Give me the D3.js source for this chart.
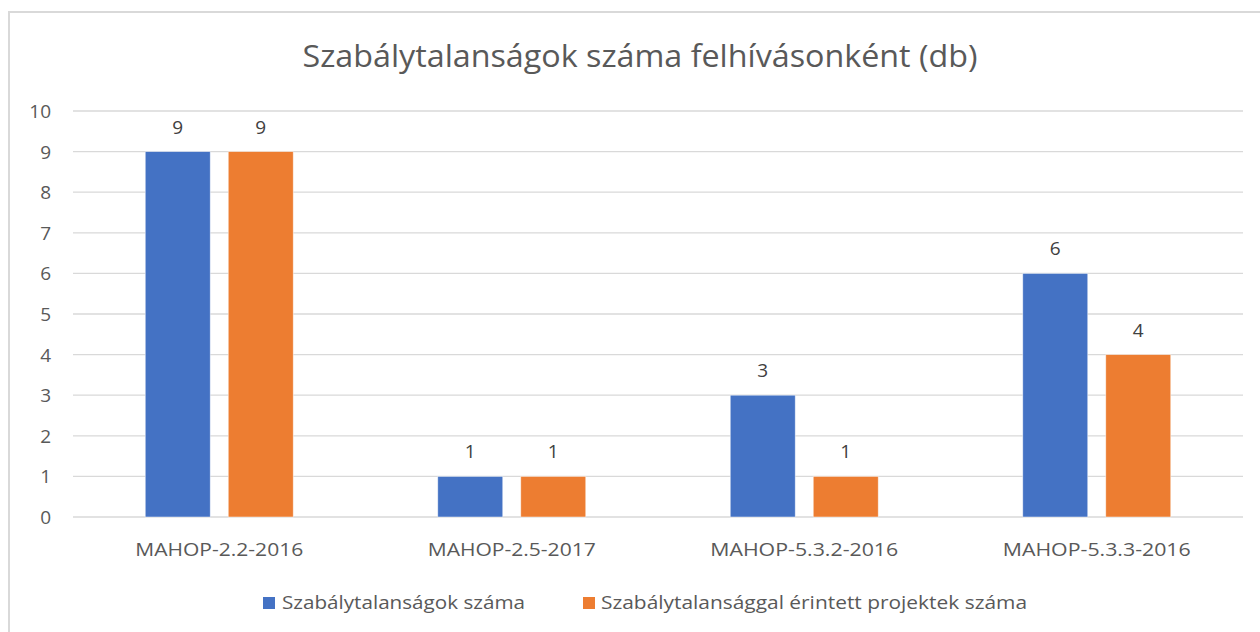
<!DOCTYPE html>
<html>
<head>
<meta charset="utf-8">
<script src="https://cdn.jsdelivr.net/npm/d3@7"></script>
<style>
	body { margin: 0; background: #fff; }
	text { font-family: "Open Sans", "Noto Sans", sans-serif; }
</style>
</head>
<body>
<script>
'use strict';

// Chart data
const categories = ["MAHOP-2.2-2016", "MAHOP-2.5-2017", "MAHOP-5.3.2-2016", "MAHOP-5.3.3-2016"];
const seriesNames = ["Szabálytalanságok száma", "Szabálytalansággal érintett projektek száma"];
const irregularities = [9, 1, 3, 6];
const affectedProjects = [9, 1, 1, 4];
const yTicks = [0, 1, 2, 3, 4, 5, 6, 7, 8, 9, 10];
const titleText = "Szabálytalanságok száma felhívásonként (db)";

const colors = ["#4472C4", "#ED7D31"];
const seriesValues = [irregularities, affectedProjects];

const width = 1260, height = 632;
const plot = { left: 73, right: 1243, top: 111, bottom: 517 };

let svg = d3.select("body").append("svg")
	.attr("width", width)
	.attr("height", height);

// Outer chart border
svg.append("rect")
	.attr("x", 9).attr("y", 12)
	.attr("width", 1270).attr("height", 640)
	.attr("fill", "#fff")
	.attr("stroke", "#D9D9D9")
	.attr("stroke-width", 2);

// Title
svg.append("text")
	.attr("x", 640).attr("y", 67)
	.attr("text-anchor", "middle")
	.attr("font-size", 31)
	.attr("fill", "#595959")
	.attr("textLength", 675)
	.attr("lengthAdjust", "spacingAndGlyphs")
	.text(titleText);

let x = d3.scaleBand()
	.domain(categories)
	.range([plot.left, plot.right]);

let y = d3.scaleLinear()
	.domain([0, 10])
	.range([plot.bottom, plot.top]);

// Gridlines
svg.append("g")
	.selectAll("line")
	.data(yTicks)
	.enter()
	.append("line")
	.attr("x1", plot.left).attr("x2", plot.right)
	.attr("y1", d => y(d)).attr("y2", d => y(d))
	.attr("stroke", "#D9D9D9")
	.attr("stroke-width", 1.3);

// Y axis labels
let yAxis = d3.axisLeft(y).tickValues(yTicks).tickSize(0).tickPadding(0);
let yAxisG = svg.append("g")
	.attr("transform", "translate(51,0)")
	.call(yAxis);
yAxisG.select(".domain").remove();
yAxisG.selectAll("text")
	.attr("font-size", 19)
	.attr("font-family", "Open Sans, sans-serif")
	.attr("fill", "#595959")
	.attr("dy", "0.34em");

// Bars: two 65px bars with an 18px gap, centred in each band
const barWidth = 65, barGap = 18;
let inner = d3.scaleBand()
	.domain([0, 1])
	.range([-(barWidth + barGap / 2), barWidth + barGap / 2])
	.paddingInner(barGap / (barWidth + barGap));

for (let s = 0; s < seriesValues.length; s++)
{
	let g = svg.append("g");
	let rows = categories.map((c, i) => ({ cat: c, value: seriesValues[s][i] }));

	g.selectAll("rect")
		.data(rows)
		.enter()
		.append("rect")
		.attr("x", d => x(d.cat) + x.bandwidth() / 2 + inner(s))
		.attr("y", d => y(d.value))
		.attr("width", inner.bandwidth())
		.attr("height", d => plot.bottom - y(d.value))
		.attr("fill", colors[s])
		.attr("stroke", "#fff")
		.attr("stroke-opacity", 0.6)
		.attr("stroke-width", 0.8);

	g.selectAll("text")
		.data(rows)
		.enter()
		.append("text")
		.attr("x", d => x(d.cat) + x.bandwidth() / 2 + inner(s) + inner.bandwidth() / 2)
		.attr("y", d => y(d.value) - 18)
		.attr("text-anchor", "middle")
		.attr("font-size", 19)
		.attr("fill", "#404040")
		.text(d => d.value);
}

// Category labels
let xAxis = d3.axisBottom(x).tickSize(0).tickPadding(0);
let xAxisG = svg.append("g")
	.attr("transform", "translate(0,556)")
	.call(xAxis);
xAxisG.select(".domain").remove();
xAxisG.selectAll("text")
	.attr("font-size", 19)
	.attr("font-family", "Open Sans, sans-serif")
	.attr("fill", "#595959")
	.attr("dy", 0)
	.attr("textLength", d => d.length > 14 ? 188 : 168)
	.attr("lengthAdjust", "spacingAndGlyphs");

// Legend
const legendItems = [
	{ name: seriesNames[0], color: colors[0], sx: 263, tx: 282, tw: 243 },
	{ name: seriesNames[1], color: colors[1], sx: 583, tx: 601, tw: 426 }
];
let legend = svg.append("g");
legend.selectAll("rect")
	.data(legendItems)
	.enter()
	.append("rect")
	.attr("x", d => d.sx).attr("y", 597)
	.attr("width", 12).attr("height", 12)
	.attr("fill", d => d.color);
legend.selectAll("text")
	.data(legendItems)
	.enter()
	.append("text")
	.attr("x", d => d.tx).attr("y", 609)
	.attr("font-size", 19)
	.attr("fill", "#595959")
	.attr("textLength", d => d.tw)
	.attr("lengthAdjust", "spacingAndGlyphs")
	.text(d => d.name);
</script>
</body>
</html>
